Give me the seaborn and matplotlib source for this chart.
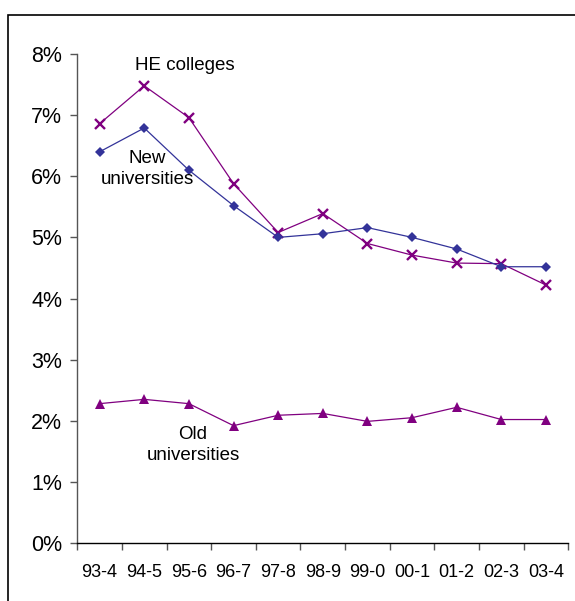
import pandas as pd
import matplotlib.pyplot as plt
import seaborn as sns
from matplotlib.patches import Rectangle
from matplotlib.ticker import FuncFormatter

# Academic years along the x axis
periods = ['93-4', '94-5', '95-6', '96-7', '97-8', '98-9', '99-0', '00-1', '01-2', '02-3', '03-4']

# Values (percent)
he_colleges = [6.86, 7.48, 6.96, 5.88, 5.08, 5.39, 4.90, 4.71, 4.58, 4.57, 4.22]
new_universities = [6.40, 6.79, 6.10, 5.52, 5.00, 5.06, 5.16, 5.00, 4.81, 4.52, 4.52]
old_universities = [2.28, 2.35, 2.28, 1.92, 2.09, 2.12, 1.99, 2.05, 2.22, 2.02, 2.02]

sns.set_style('white')
plt.rcParams['font.family'] = ['Liberation Sans', 'DejaVu Sans']
plt.rcParams['text.color'] = 'black'

df = pd.DataFrame({
    'Period': periods,
    'HE colleges': he_colleges,
    'New universities': new_universities,
    'Old universities': old_universities,
})

fig = plt.figure(figsize=(5.75, 6.01), dpi=100)
ax = fig.add_axes([0.1344, 0.0965, 0.854, 0.8136])

sns.lineplot(data=df, x='Period', y='HE colleges', sort=False, ax=ax,
             color='#800080', lw=0.9, marker='x', markersize=7.5,
             markeredgewidth=1.7, markeredgecolor='#800080')
sns.lineplot(data=df, x='Period', y='New universities', sort=False, ax=ax,
             color='#333399', lw=0.9, marker='D', markersize=5.5,
             markeredgewidth=0, markerfacecolor='#333399')
sns.lineplot(data=df, x='Period', y='Old universities', sort=False, ax=ax,
             color='#800080', lw=0.9, marker='^', markersize=7,
             markeredgewidth=0, markerfacecolor='#800080')

# Series labels placed beside the lines
ax.text(1.9, 7.82, 'HE colleges', ha='center', va='center', fontsize=13.5, color='black')
ax.text(1.06, 6.12, 'New\nuniversities', ha='center', va='center', fontsize=13.5,
        linespacing=1.35, color='black')
ax.text(2.09, 1.60, 'Old\nuniversities', ha='center', va='center', fontsize=13.5,
        linespacing=1.28, color='black')

ax.set_ylim(0, 8)
ax.set_xlim(-0.5, len(periods) - 0.5)
ax.set_yticks(range(0, 9))
ax.yaxis.set_major_formatter(FuncFormatter(lambda v, p: f'{v:.0f}%'))
ax.tick_params(axis='y', length=5, width=1, color='#555555', labelsize=15.5,
               labelcolor='black', pad=6, left=True)

# x ticks sit between categories, labels centred on the categories
ax.set_xticks(range(len(periods)))
ax.set_xticklabels(periods)
ax.set_xticks([i - 0.5 for i in range(len(periods) + 1)], minor=True)
ax.tick_params(axis='x', which='major', length=0, labelsize=13, labelcolor='black', pad=15)
ax.tick_params(axis='x', which='minor', length=5, width=1, color='#555555', bottom=True)

ax.set_xlabel('')
ax.set_ylabel('')
ax.spines['top'].set_visible(False)
ax.spines['right'].set_visible(False)
ax.spines['left'].set_color('#555555')
ax.spines['bottom'].set_color('black')
ax.spines['left'].set_linewidth(1)
ax.spines['bottom'].set_linewidth(1)

# Outer chart frame (cut off at right and bottom)
fig.patches.append(Rectangle((8 / 575, -0.1), 1.0, 1 - 15 / 601 + 0.1,
                             transform=fig.transFigure, fill=False,
                             edgecolor='black', linewidth=1.2))

plt.savefig('out.png', dpi=100)
